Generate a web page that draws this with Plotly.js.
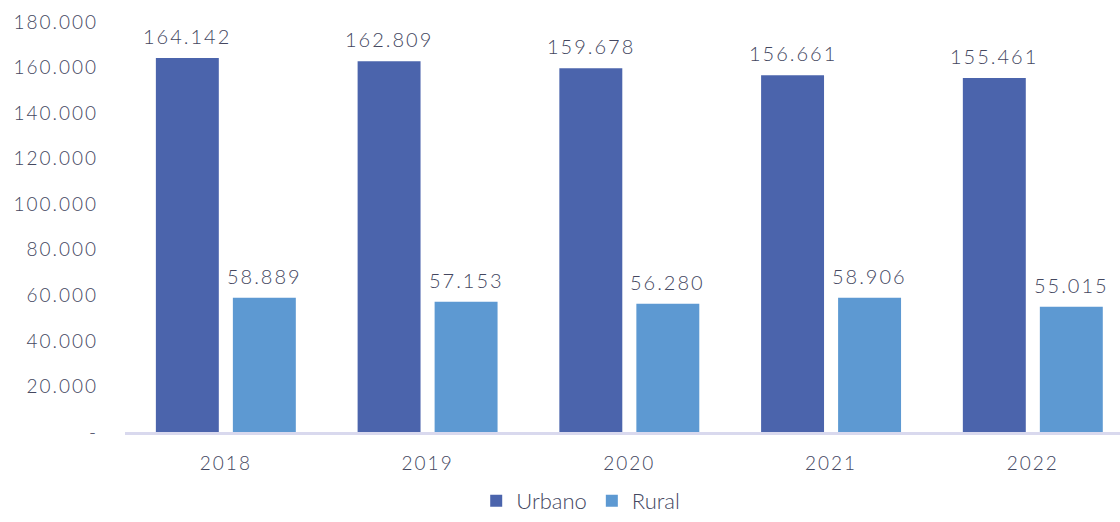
<!DOCTYPE html>
<html>
<head>
<meta charset="utf-8">
<script src="https://cdn.plot.ly/plotly-3.0.1.min.js"></script>
<style>
html,body{margin:0;padding:0;background:#fff;}
#chart{width:1120px;height:522px;}
#chart .xtick text, #chart .ytick text, #chart .annotation-text{letter-spacing:2px;}
</style>
</head>
<body>
<div id="chart"></div>
<script>
const years = ['2018', '2019', '2020', '2021', '2022'];
const urbano = [164142, 162809, 159678, 156661, 155461];
const rural = [58889, 57153, 56280, 58906, 55015];
const yTickVals = [0, 20000, 40000, 60000, 80000, 100000, 120000, 140000, 160000, 180000];
const yTickText = ['-', '20.000', '40.000', '60.000', '80.000', '100.000', '120.000', '140.000', '160.000', '180.000'];

const fontFam = 'Lato, "Open Sans", sans-serif';
const txtColor = '#44475f';
const xs = years.map((_, i) => i);
const fmt = v => v.toLocaleString('de-DE');

const data = [
  {
    type: 'bar', name: 'Urbano', x: xs, y: urbano,
    width: 0.312, offset: -0.347,
    marker: {color: '#4b64ac'}
  },
  {
    type: 'bar', name: 'Rural', x: xs, y: rural,
    width: 0.312, offset: 0.0347,
    marker: {color: '#5d99d2'}
  }
];

const annotations = [];
xs.forEach(i => {
  annotations.push({x: i - 0.191, y: urbano[i], xref: 'x', yref: 'y', text: fmt(urbano[i]),
    showarrow: false, yanchor: 'bottom', yshift: 8, font: {family: fontFam, size: 20, color: txtColor, weight: 300}});
  annotations.push({x: i + 0.191, y: rural[i], xref: 'x', yref: 'y', text: fmt(rural[i]),
    showarrow: false, yanchor: 'bottom', yshift: 8, font: {family: fontFam, size: 20, color: txtColor, weight: 300}});
});

const layout = {
  width: 1120, height: 522,
  margin: {l: 125, r: 0, t: 22, b: 90},
  paper_bgcolor: '#ffffff', plot_bgcolor: '#ffffff',
  font: {family: fontFam, size: 18, color: txtColor, weight: 300},
  barmode: 'overlay',
  showlegend: true,
  annotations: annotations,
  legend: {orientation: 'h', x: 0.458, xref: 'paper', xanchor: 'center', y: -0.2195, yanchor: 'bottom',
           font: {family: fontFam, size: 22, color: txtColor, weight: 300}, itemwidth: 30, tracegroupgap: 10},
  xaxis: {
    range: [-0.5, 4.432], tickmode: 'array', tickvals: xs, ticktext: years,
    showgrid: false, zeroline: false, showline: true, linecolor: '#d9d9ee', linewidth: 3,
    ticks: '', ticklabelstandoff: 12, tickfont: {family: fontFam, size: 19, color: txtColor, weight: 300}
  },
  yaxis: {
    range: [0, 180000], tickmode: 'array', tickvals: yTickVals, ticktext: yTickText,
    showgrid: false, zeroline: false, showline: false, ticks: '',
    ticklabelstandoff: 26, tickfont: {family: fontFam, size: 19, color: txtColor, weight: 300}
  }
};

Plotly.newPlot('chart', data, layout, {displayModeBar: false, staticPlot: true});
</script>
</body>
</html>
